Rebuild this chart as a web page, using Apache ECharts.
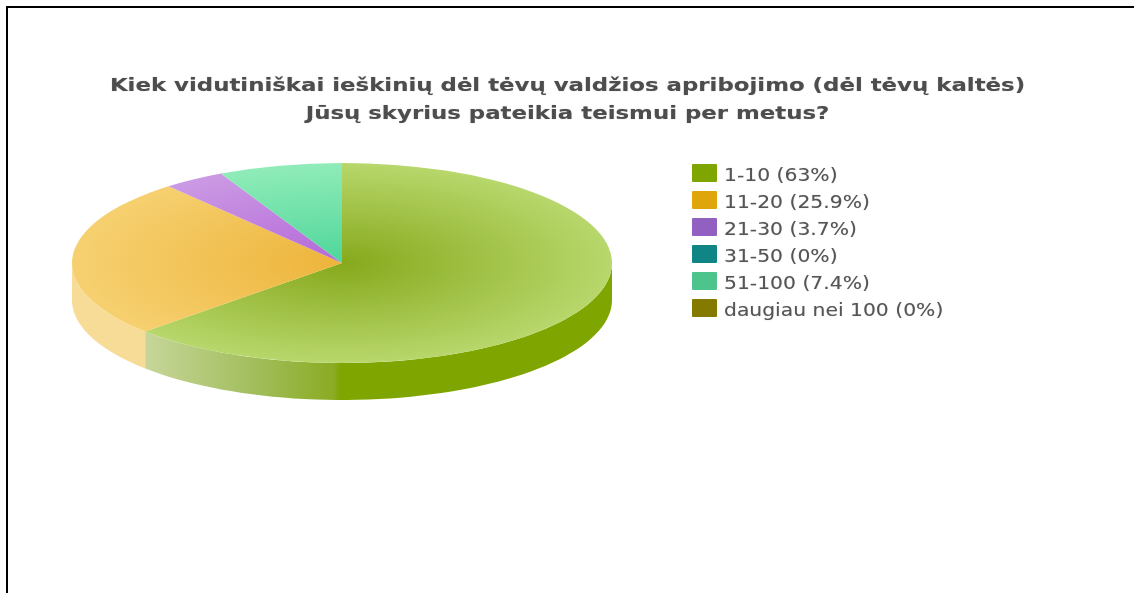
<!DOCTYPE html>
<html>
<head>
<meta charset="utf-8">
<title>Pie</title>
<style>
  html, body { margin: 0; padding: 0; background: #fff; }
  #chart { width: 1134px; height: 593px; }
</style>
</head>
<body>
<div id="chart"></div>
<script src="https://cdn.jsdelivr.net/npm/echarts@6/dist/echarts.min.js"></script>
<script>
  var categories = ['1-10', '11-20', '21-30', '31-50', '51-100', 'daugiau nei 100'];
  var shares = [63, 25.9, 3.7, 0, 7.4, 0];
  var titleLines = [
    'Kiek vidutiniškai ieškinių dėl tėvų valdžios apribojimo (dėl tėvų kaltės)',
    'Jūsų skyrius pateikia teismui per metus?'
  ];

  var legendColors = ['#7fa600', '#dea60b', '#9160c0', '#0f8585', '#4cc48c', '#857a00'];
  // [centre, rim] of each slice's top face
  var topColors = [
    ['#86a91c', '#b8d76c'],
    ['#edb43a', '#f6d070'],
    ['#b468d8', '#cb9ae4'],
    ['#0f8585', '#0f8585'],
    ['#4ed69a', '#90ecb8'],
    ['#857a00', '#857a00']
  ];

  var cx = 342, cy = 263, rx = 270, ry = 100, depth = 37;

  function wallFill(index) {
    if (index === 0) {
      return {
        type: 'linear', x: 145, y: 0, x2: 340, y2: 0, global: true,
        colorStops: [
          { offset: 0, color: '#c6d69a' },
          { offset: 0.6, color: '#a0bc58' },
          { offset: 0.97, color: '#8aab22' },
          { offset: 1, color: '#7fa600' }
        ]
      };
    }
    return '#f6dc96';
  }

  function renderSlice(params, api) {
    var index = params.seriesIndex;
    var total = shares.reduce(function (a, b) { return a + b; }, 0);
    var before = shares.slice(0, index).reduce(function (a, b) { return a + b; }, 0);
    var start = -Math.PI / 2 + before / total * Math.PI * 2;
    var end = start + api.value(0) / total * Math.PI * 2;
    var children = [];
    if (end <= start) {
      return { type: 'group', children: children };
    }

    // side wall, only the part on the front half of the ellipse
    var a0 = Math.max(start, 0), a1 = Math.min(end, Math.PI);
    if (a1 > a0) {
      var upper = [], lower = [];
      for (var i = 0; i <= 60; i++) {
        var a = a0 + (a1 - a0) * i / 60;
        var x = cx + rx * Math.cos(a), y = cy + ry * Math.sin(a);
        upper.push([x, y]);
        lower.unshift([x, y + depth]);
      }
      children.push({
        type: 'polygon',
        shape: { points: upper.concat(lower) },
        style: { fill: wallFill(index) }
      });
    }

    children.push({
      type: 'sector',
      x: cx,
      y: cy,
      scaleY: ry / rx,
      shape: { cx: 0, cy: 0, r0: 0, r: rx, startAngle: start, endAngle: end, clockwise: true },
      style: {
        fill: {
          type: 'radial', x: 0, y: 0, r: rx, global: true,
          colorStops: [
            { offset: 0, color: topColors[index][0] },
            { offset: 1, color: topColors[index][1] }
          ]
        }
      }
    });
    return { type: 'group', children: children };
  }

  var seriesList = categories.map(function (name, i) {
    return {
      name: name,
      type: 'custom',
      coordinateSystem: 'none',
      renderItem: renderSlice,
      itemStyle: { color: legendColors[i] },
      silent: true,
      data: [[shares[i]]]
    };
  });

  // the reference text is stretched sideways, the legend and title components can't do that
  var graphics = [
    { type: 'rect', shape: { x: 6, y: 6, width: 1128, height: 2 }, style: { fill: '#000' } },
    { type: 'rect', shape: { x: 6, y: 6, width: 2, height: 587 }, style: { fill: '#000' } }
  ];
  titleLines.forEach(function (line, i) {
    graphics.push({
      type: 'text',
      x: 567.5,
      y: 86 + i * 28,
      scaleX: 1.235,
      style: {
        text: line,
        fontFamily: 'DejaVu Sans',
        fontSize: 18.5,
        fontWeight: 'bold',
        fill: '#4d4d4d',
        textShadowBlur: 1,
        textShadowColor: 'rgba(77,77,77,0.5)',
        align: 'center',
        verticalAlign: 'middle'
      }
    });
  });
  categories.forEach(function (name, i) {
    graphics.push({
      type: 'rect',
      shape: { x: 692, y: 164 + i * 27, width: 25, height: 18, r: 1 },
      style: { fill: legendColors[i] }
    });
    graphics.push({
      type: 'text',
      x: 724,
      y: 177 + i * 27,
      scaleX: 1.195,
      style: {
        text: name + ' (' + shares[i] + '%)',
        fontFamily: 'DejaVu Sans',
        fontSize: 17,
        fill: '#555',
        textShadowBlur: 1,
        textShadowColor: 'rgba(85,85,85,0.4)',
        align: 'left',
        verticalAlign: 'middle'
      }
    });
  });

  var myChart = echarts.init(document.getElementById('chart'));
  myChart.setOption({
    animation: false,
    backgroundColor: '#fff',
    graphic: graphics,
    series: seriesList
  });
</script>
</body>
</html>
